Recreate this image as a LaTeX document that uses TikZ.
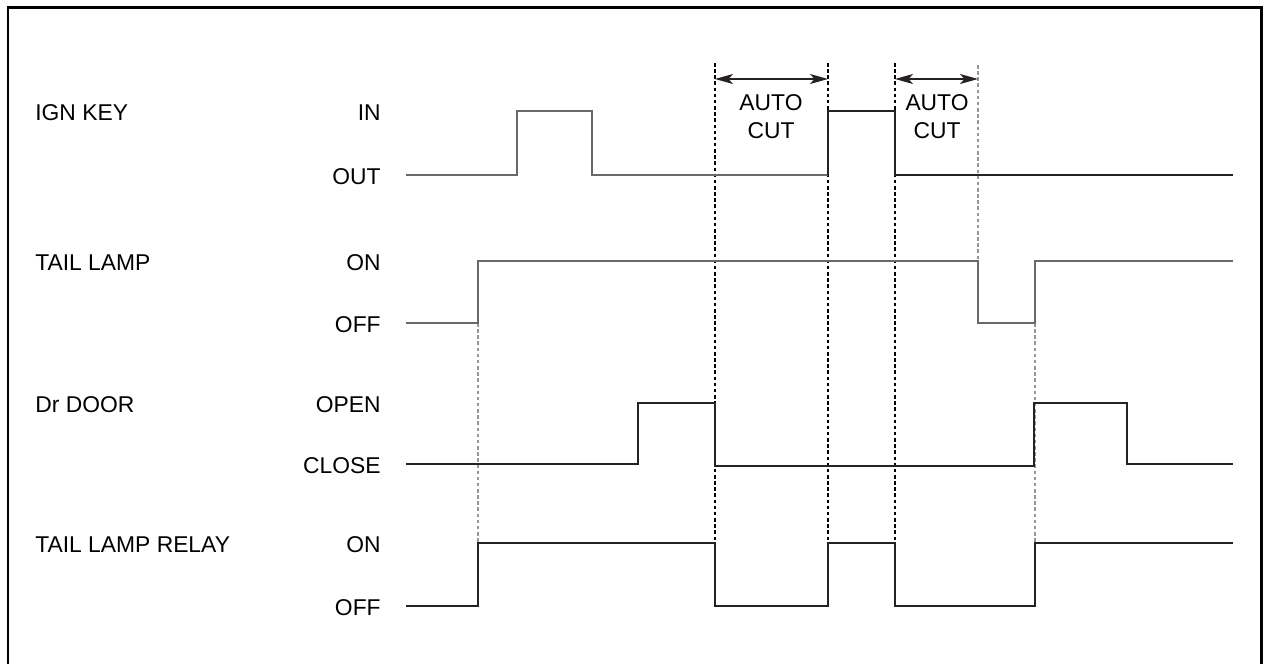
\documentclass[tikz,border=0pt]{standalone}
\usepackage{fontspec}
\setmainfont{Liberation Sans}
\usetikzlibrary{positioning,arrows.meta,calc}
\definecolor{WaveDark}{RGB}{38,34,34}
\definecolor{WaveGray}{RGB}{105,105,105}
\definecolor{GuideGray}{RGB}{150,150,150}
\tikzset{
  frame/.style={line width=1.7pt,draw=black},
  wave/.style={line width=1.2pt,draw=WaveDark},
  lightwave/.style={line width=1.1pt,draw=WaveGray},
  guide/.style={line width=0.8pt,draw=black,dash pattern=on 2pt off 1.5pt},
  lightguide/.style={guide,draw=GuideGray},
  span/.style={{Stealth[length=3.6mm,width=2mm,inset=0.9mm]}-{Stealth[length=3.6mm,width=2mm,inset=0.9mm]},line width=0.8pt,draw=WaveDark},
  signame/.style={anchor=west,inner sep=0pt,font=\fontsize{13}{15}\selectfont},
  level/.style={anchor=east,inner sep=0pt,font=\fontsize{13}{15}\selectfont},
  cutlabel/.style={align=center,inner sep=0pt,font=\fontsize{13}{16}\selectfont}
}

\begin{document}
\begin{tikzpicture}[x=0.02cm,y=-0.02cm]
  \useasboundingbox (0,0) rectangle (1266,664);
  \draw[frame] (8,664) -- (8,7) -- (1261,7) -- (1261,664);

  % signal names and levels
  \node[signame] (ign) at (35,113) {IGN KEY};
  \node[level] (ignin) at (381,113) {IN};
  \node[level] (ignout) at (381,177) {OUT};
  \node[signame] (tail) at (35,263) {TAIL LAMP};
  \node[level] (tailon) at (381,263) {ON};
  \node[level] (tailoff) at (381,325) {OFF};
  \node[signame] (door) at (35,405) {Dr DOOR};
  \node[level] (dooropen) at (381,405) {OPEN};
  \node[level] (doorclose) at (381,466) {CLOSE};
  \node[signame] (relay) at (35,545) {TAIL LAMP RELAY};
  \node[level] (relayon) at (381,545) {ON};
  \node[level] (relayoff) at (381,608) {OFF};

  % guide lines
  \draw[lightguide] (478,323) -- (478,543);
  \draw[lightguide] (1035,323) -- (1035,543);
  \draw[lightguide] (978,65) -- (978,261);
  \draw[guide] (715,63) -- (715,606);
  \draw[guide] (828,63) -- (828,606);
  \draw[guide] (895,63) -- (895,606);

  % auto cut spans
  \coordinate (cutAs) at (715,79);
  \coordinate (cutAe) at (828,79);
  \coordinate (cutBs) at (895,79);
  \coordinate (cutBe) at (978,79);
  \draw[span] (cutAs) -- (cutAe);
  \draw[span] (cutBs) -- (cutBe);
  \node[cutlabel] (cutA) at (771,117) {AUTO\\CUT};
  \node[cutlabel] (cutB) at (937,117) {AUTO\\CUT};

  % waveforms
  \draw[lightwave] (406,175) -- (517,175) -- (517,111) -- (592,111) -- (592,175) -- (828,175);
  \draw[wave] (828,175) -- (828,111) -- (895,111) -- (895,175) -- (1233,175);
  \draw[lightwave] (406,323) -- (478,323) -- (478,261) -- (978,261) -- (978,323)
    -- (1035,323) -- (1035,261) -- (1233,261);
  \draw[wave] (406,464) -- (638,464) -- (638,403) -- (715,403) -- (715,466)
    -- (1034,466) -- (1034,403) -- (1127,403) -- (1127,464) -- (1233,464);
  \draw[wave] (406,606) -- (478,606) -- (478,543) -- (715,543) -- (715,606)
    -- (828,606) -- (828,543) -- (895,543) -- (895,606) -- (1035,606)
    -- (1035,543) -- (1233,543);
\end{tikzpicture}
\end{document}
